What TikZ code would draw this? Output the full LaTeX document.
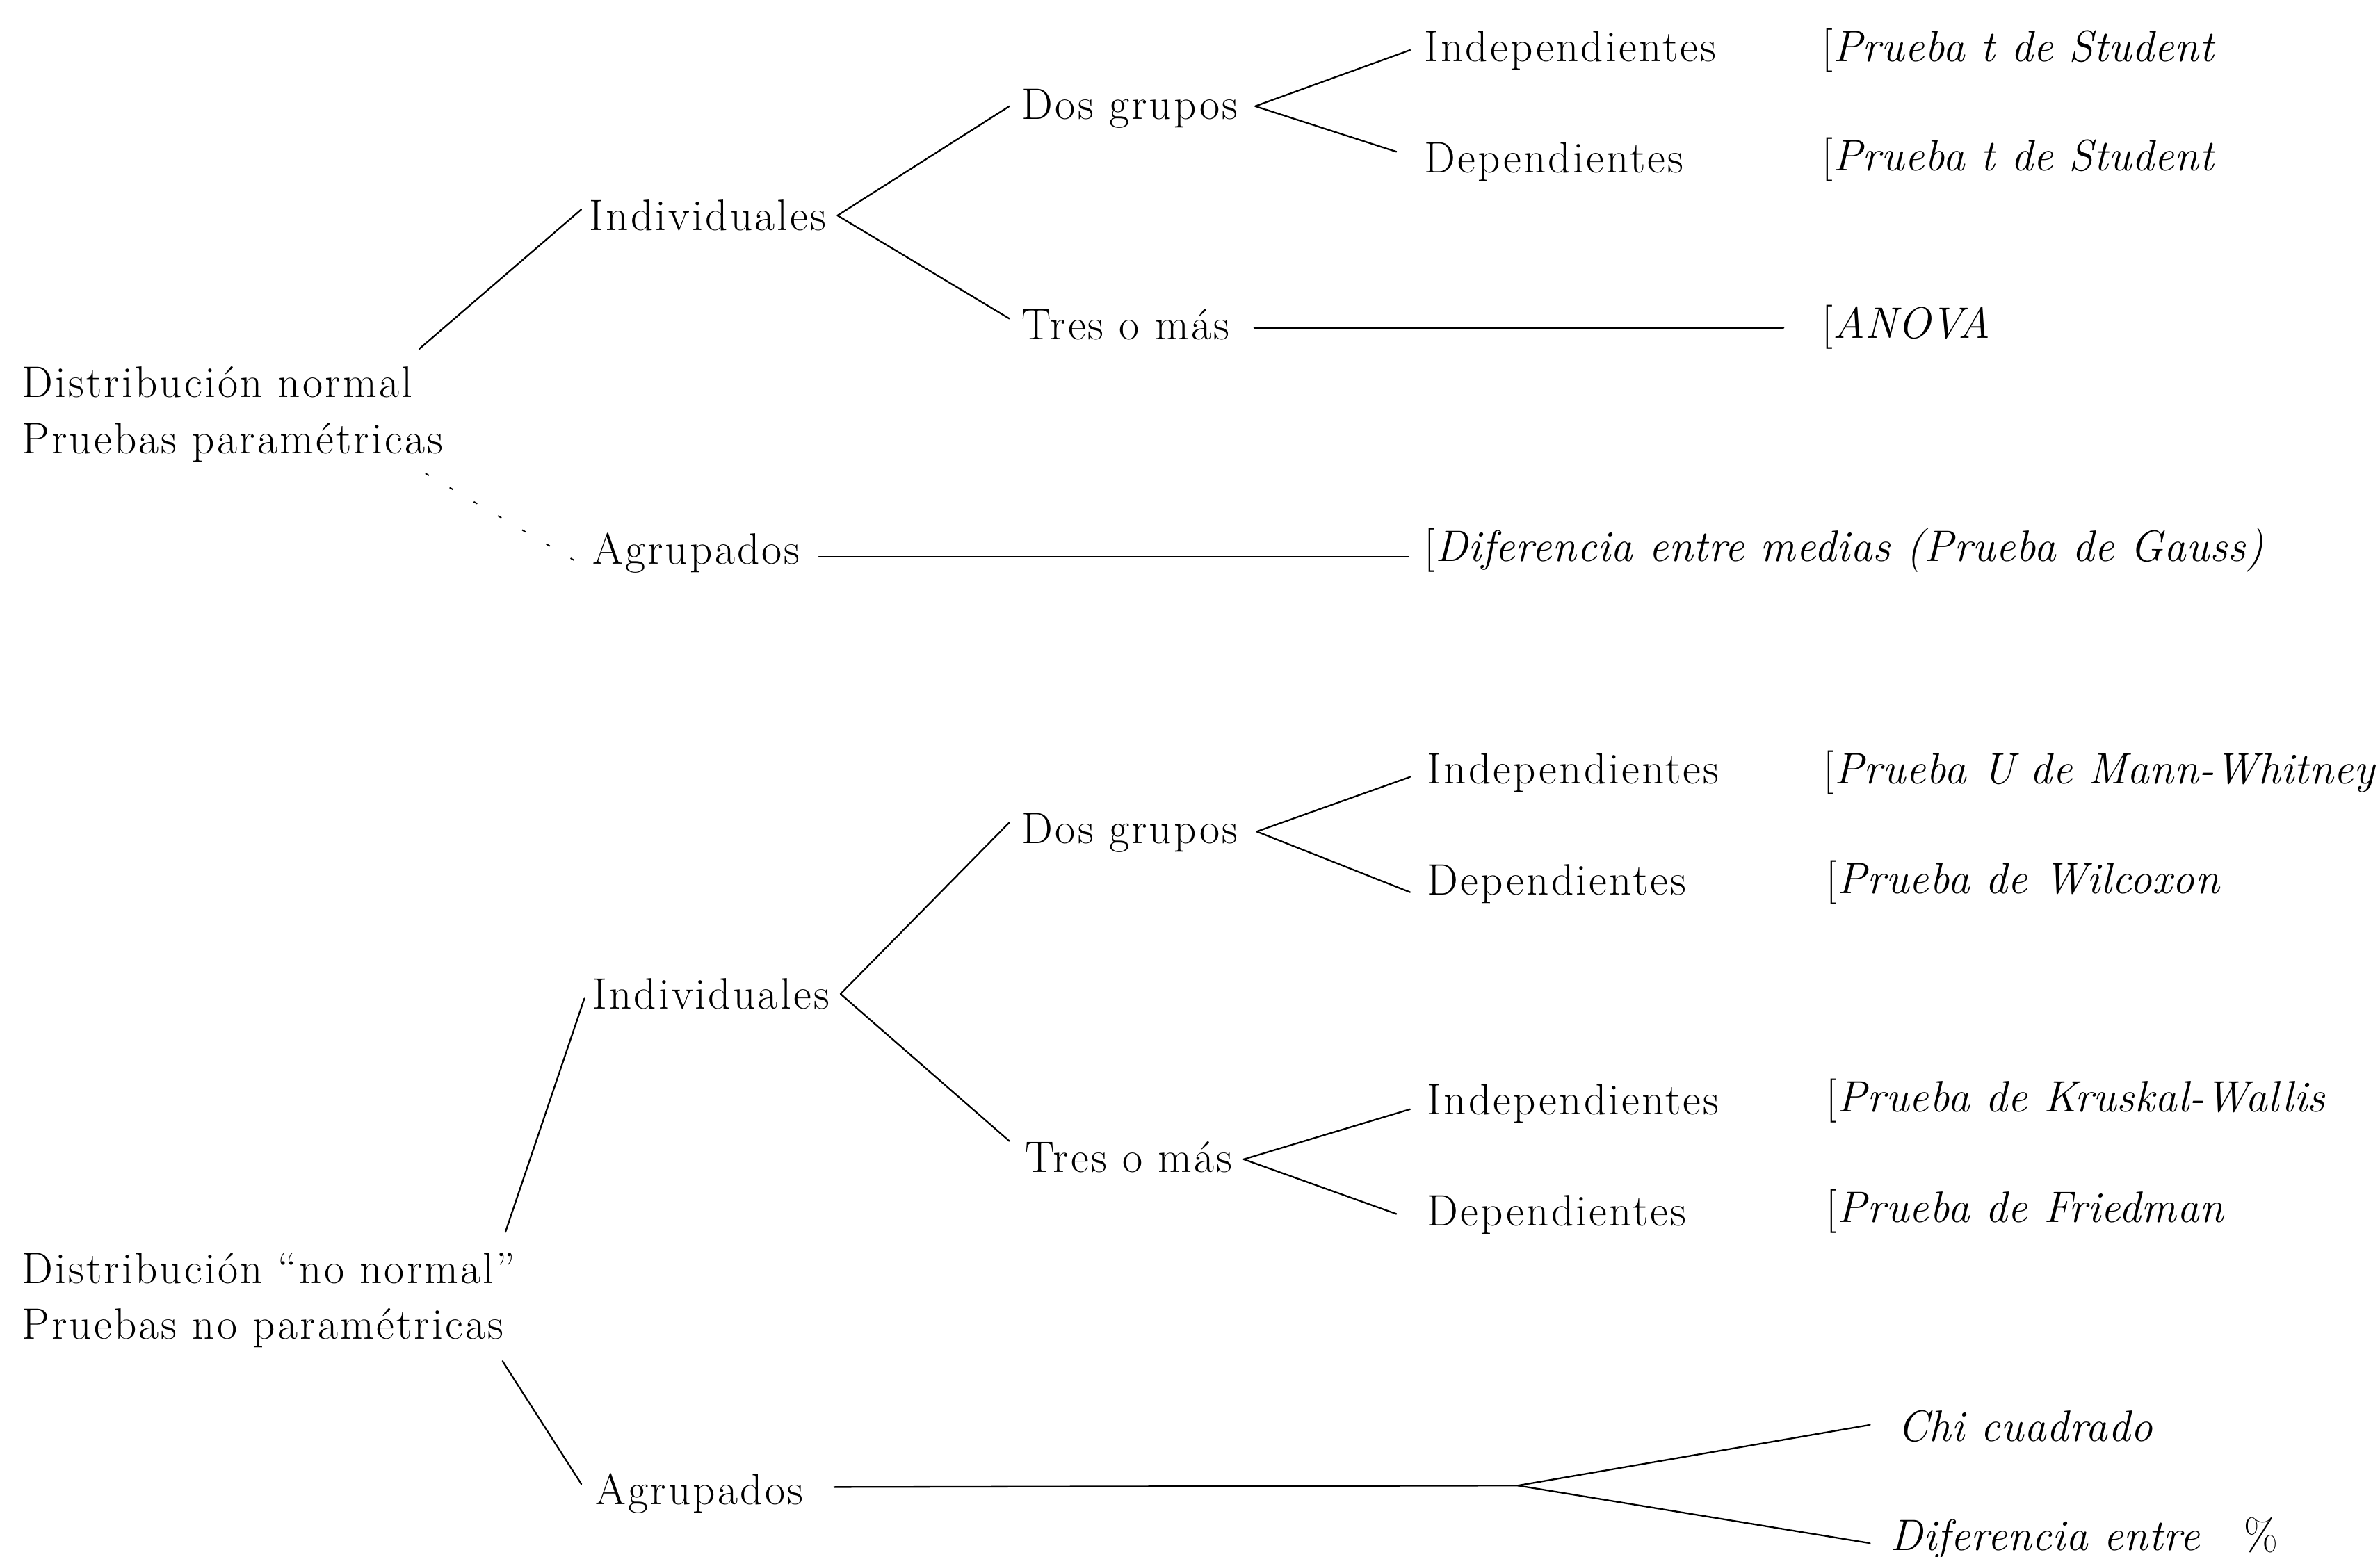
\documentclass[tikz,border=0pt]{standalone}
\usepackage{fontspec}
\setmainfont{Latin Modern Roman}[LetterSpace=5, ItalicFeatures={LetterSpace=1}]
\usetikzlibrary{calc}
\begin{document}
\begin{tikzpicture}[x=0.2mm,y=-0.2mm,
  lbl/.style={anchor=west, inner sep=0pt, text height=11pt, text depth=0pt, font=\fontsize{16.5}{20}\selectfont},
  res/.style={lbl, font=\fontsize{16.5}{20}\selectfont},
  conn/.style={line width=0.6pt, line cap=round},
  faint/.style={line width=0.5pt, dash pattern=on 1.5pt off 9pt}]
\useasboundingbox (0,0) rectangle (1568,1026);
% ---------- top tree ----------
\node[lbl] (r1a) at (14,252) {Distribución normal};
\node[lbl] (r1b) at (14,289) {Pruebas paramétricas};
\node[lbl] (ind1) at (388,142) {Individuales};
\node[lbl] (dos1) at (673,69) {Dos grupos};
\node[lbl] (tres1) at (673,214) {Tres o más};
\node[lbl] (indep1) at (938,31) {Independientes};
\node[lbl] (dep1) at (938,104) {Dependientes};
\node[res] (t1) at (1200,31) {[\textit{Prueba t de Student}};
\node[res] (t2) at (1200,103) {[\textit{Prueba t de Student}};
\node[res] (anova) at (1200,213) {[\textit{ANOVA}};
\node[lbl] (agr1) at (390,362) {Agrupados};
\node[res] (gauss) at (938,360) {[\textit{Diferencia entre medias (Prueba de Gauss)}};
\draw[conn] ($(r1a.east)+(4,-22)$) -- ($(ind1.west)+(-5,-4)$);
\draw[conn] ($(ind1.east)+(7,0)$) -- ($(dos1.west)+(-8,1)$);
\draw[conn] ($(ind1.east)+(7,0)$) -- ($(tres1.west)+(-8,-4)$);
\draw[conn] ($(dos1.east)+(11,1)$) -- ($(indep1.west)+(-9,2)$);
\draw[conn] ($(dos1.east)+(11,1)$) -- ($(dep1.west)+(-18,-4)$);
\draw[conn] ($(tres1.east)+(16,2)$) -- ($(anova.west)+(-25,3)$);
\draw[faint] ($(r1b.east)+(-12,23)$) -- ($(agr1.west)+(-7,10)$);
\draw[conn] ($(agr1.east)+(12,5)$) -- ($(gauss.west)+(-10,7)$);
% ---------- bottom tree ----------
\node[lbl] (r2a) at (14,836) {Distribución “no normal”};
\node[lbl] (r2b) at (14,873) {Pruebas no paramétricas};
\node[lbl] (ind2) at (390,655) {Individuales};
\node[lbl] (dos2) at (673,546) {Dos grupos};
\node[lbl] (tres2) at (675,763) {Tres o más};
\node[lbl] (indep2) at (940,507) {Independientes};
\node[lbl] (dep2) at (940,580) {Dependientes};
\node[lbl] (indep3) at (940,725) {Independientes};
\node[lbl] (dep3) at (940,798) {Dependientes};
\node[res] (mw) at (1201,507) {[\textit{Prueba U de Mann-Whitney}};
\node[res] (wil) at (1203,579) {[\textit{Prueba de Wilcoxon}};
\node[res] (kw) at (1203,723) {[\textit{Prueba de Kruskal-Wallis}};
\node[res] (fr) at (1203,796) {[\textit{Prueba de Friedman}};
\node[lbl] (agr2) at (392,982) {Agrupados};
\node[res] (chi) at (1250,940) {\textit{Chi cuadrado}};
\node[res] (dif) at (1245,1012) {\textit{Diferencia entre}\quad\%};
\coordinate (fork) at (1000,979);
\draw[conn] ($(r2a.east)+(-7,-24)$) -- ($(ind2.west)+(-5,3)$);
\draw[conn] ($(ind2.east)+(7,0)$) -- ($(dos2.west)+(-8,-4)$);
\draw[conn] ($(ind2.east)+(7,0)$) -- ($(tres2.west)+(-10,-11)$);
\draw[conn] ($(dos2.east)+(12,2)$) -- ($(indep2.west)+(-11,5)$);
\draw[conn] ($(dos2.east)+(12,2)$) -- ($(dep2.west)+(-11,8)$);
\draw[conn] ($(tres2.east)+(7,1)$) -- ($(indep3.west)+(-11,6)$);
\draw[conn] ($(tres2.east)+(7,1)$) -- ($(dep3.west)+(-20,2)$);
\draw[conn] ($(r2b.east)+(-1,24)$) -- ($(agr2.west)+(-9,-4)$);
\draw[conn] ($(agr2.east)+(20,-2)$) -- (fork);
\draw[conn] (fork) -- ($(chi.west)+(-18,-1)$);
\draw[conn] (fork) -- ($(dif.west)+(-13,5)$);
\end{tikzpicture}
\end{document}
